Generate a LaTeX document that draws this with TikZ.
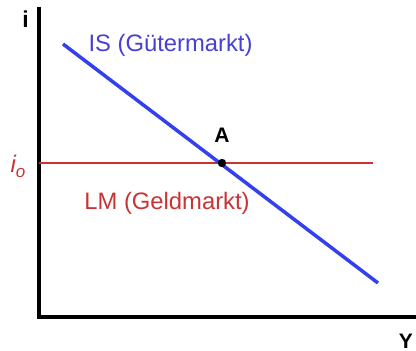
\documentclass[tikz,border=0pt]{standalone}
\usepackage{fontspec}
\setmainfont{Liberation Sans}
\definecolor{isblue}{RGB}{52,64,238}
\definecolor{istext}{RGB}{72,64,214}
\definecolor{lmred}{RGB}{200,52,52}
\begin{document}
\begin{tikzpicture}[x=1pt,y=-1pt,
  axis/.style={line width=3.8pt,line cap=rect},
  lbl/.style={inner sep=0pt,anchor=base},
  curveIS/.style={isblue,line width=3.5pt},
  curveLM/.style={lmred,line width=2.6pt}]
\useasboundingbox (0,0) rectangle (416,351);
\coordinate (O) at (39,317);
\coordinate (ytop) at (39,9);
\coordinate (xend) at (416,317);
\draw[axis] (ytop) -- (O) -- (xend);
\node[lbl,font=\bfseries\fontsize{23}{23}\selectfont] (ilab) at (25.5,27) {i};
\node[lbl,font=\bfseries\fontsize{21}{21}\selectfont] (ylab) at (406,348) {Y};
\coordinate (is1) at (63,44);
\coordinate (is2) at (378,283);
\coordinate (lm1) at (39,163);
\coordinate (lm2) at (373,163);
\draw[curveLM] (lm1) -- (lm2);
\draw[curveIS] (is1) -- (is2);
\fill (222,163) circle (4.2pt) node (A) {};
\node[lbl,font=\bfseries\fontsize{21}{21}\selectfont] (alab) at (222,142) {A};
\node[lbl,lmred,font=\fontsize{24}{24}\selectfont] (i0) at (18,172) {\itshape i\raisebox{-5pt}{\fontsize{17}{17}\selectfont o}};
\node[lbl,istext,font=\fontsize{23.8}{23.8}\selectfont] (istxt) at (170.5,51.5) {IS (Gütermarkt)};
\node[lbl,lmred,font=\fontsize{23.8}{23.8}\selectfont] (lmtxt) at (167,209) {LM (Geldmarkt)};
\end{tikzpicture}
\end{document}
